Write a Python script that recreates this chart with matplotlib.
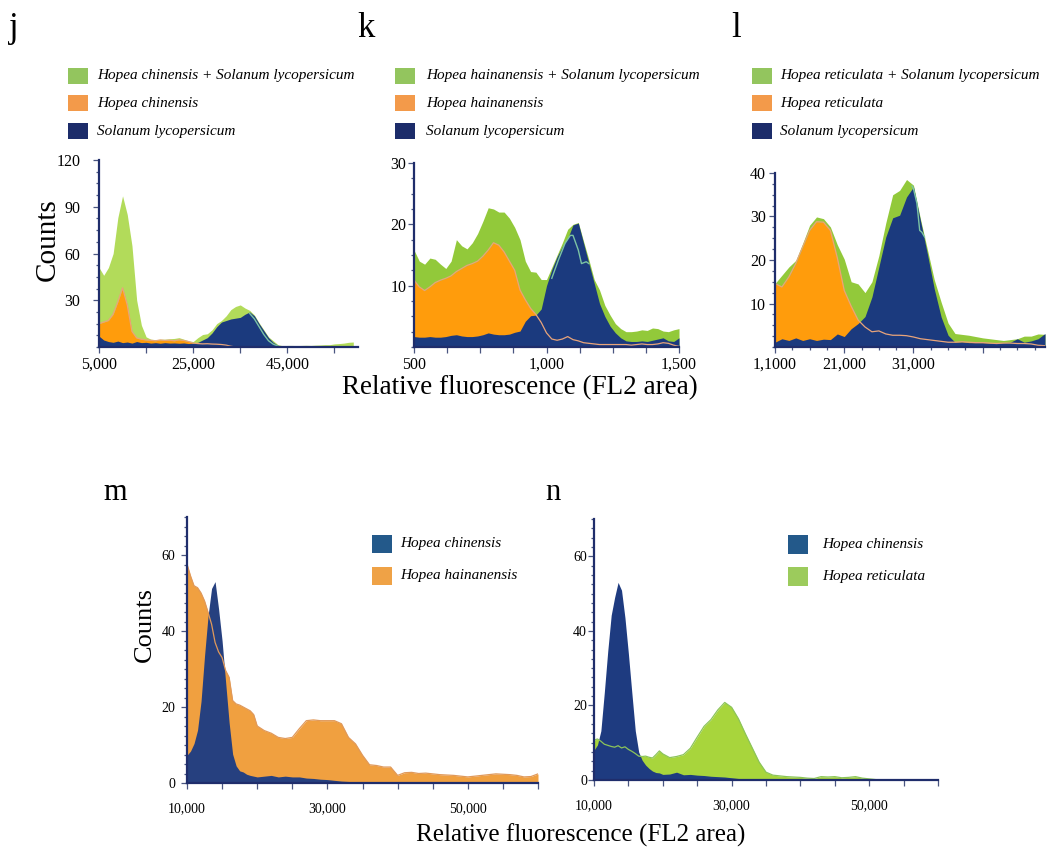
import numpy as np
import matplotlib
matplotlib.use("Agg")
import matplotlib.pyplot as plt
from matplotlib.patches import Rectangle
from matplotlib.ticker import FixedLocator, MultipleLocator

plt.rcParams['font.family'] = ['Liberation Serif', 'DejaVu Serif']

W, H = 1047, 850

# ---------------- data ----------------
# panel j : H. chinensis + S. lycopersicum
x_j = np.arange(5000, 60000, 1000)
green_j = [51, 46, 51, 60, 83, 97, 85, 65, 30, 14,
           6.5, 5, 4.7, 5, 5, 5.3, 5.5, 6, 5, 4,
           3.5, 6, 8, 8.5, 11, 15, 17, 20, 24, 26,
           27, 25, 23.5, 20.5, 15.5, 11, 6.5, 4, 1.5, 0.8,
           1, 1, 0.9, 1, 1.1, 1, 1.2, 1.3, 1.5, 1.5,
           2, 2.2, 2.5, 3, 3.2]
orange_j = [15, 16, 17, 21, 29, 38, 27, 10, 5.8, 5,
            4.5, 4.3, 4, 4.5, 4.2, 4.4, 4, 4.6, 4.2, 3.5,
            2.5, 2.2, 2, 2.1, 1.9, 1.8, 1.6, 1.2, 0.5, 0,
            0, 0, 0, 0, 0, 0, 0, 0, 0, 0,
            0, 0, 0, 0, 0, 0, 0, 0, 0, 0,
            0, 0, 0, 0, 0]
navy_j = [7, 4.5, 3.5, 3, 3.8, 2.8, 3.2, 2.5, 3.5, 2.8,
          3, 2.5, 2.8, 2.4, 2.8, 2.5, 2.6, 2.4, 2.6, 2.2,
          2.5, 3, 4.5, 6, 9, 13, 16, 17, 18, 18.5,
          19, 21, 22.5, 20, 15, 10.5, 6, 3, 1, 0.4,
          0.3, 0.3, 0.3, 0.3, 0.3, 0.3, 0.3, 0.3, 0.3, 0.3,
          0.3, 0.3, 0.3, 0.3, 0.3]
teal_x_j = [37000, 38000, 39000, 40000, 41000, 42000, 43000]
teal_j = [21.5, 18, 13, 8, 4, 1.8, 0.6]

# panel k : H. hainanensis + S. lycopersicum
x_k = np.arange(500, 1501, 20)
green_k = [15.8, 14, 13.5, 14.5, 14.3, 13.5, 12.8, 14, 17.5, 16.5,
           16, 17, 18.5, 20.5, 22.7, 22.5, 22, 22, 21, 19.5,
           17.5, 14, 12.3, 12.2, 11, 11, 13, 15, 17, 19.2,
           20, 20.3, 17.2, 14.2, 11, 9.3, 6.8, 5.2, 3.8, 3,
           2.5, 2.5, 2.6, 2.8, 2.7, 3.1, 3, 2.6, 2.5, 2.8,
           3]
orange_k = [10.9, 9.8, 9.2, 9.8, 10.5, 10.9, 11.2, 11.6, 12.3, 12.8,
            13.3, 13.6, 14, 14.8, 15.8, 17, 16.6, 15.5, 14, 12.5,
            9.3, 7.7, 6.3, 5.3, 4, 2.3, 1.3, 1.1, 1.3, 1.7,
            1.2, 1.0, 0.7, 0.6, 0.5, 0.4, 0.4, 0.4, 0.4, 0.4,
            0.4, 0.3, 0.4, 0.5, 0.4, 0.4, 0.5, 0.7, 0.6, 0.3,
            0.1]
navy_k = [1.7, 1.6, 1.6, 1.7, 1.6, 1.6, 1.7, 1.9, 2, 1.8,
          1.7, 1.7, 1.8, 2, 2.3, 2.1, 2, 2, 2.1, 2.4,
          2.6, 4.2, 5.1, 5.2, 6.2, 10, 12.6, 14.7, 16.4, 17.7,
          19.9, 20.2, 16.9, 13.6, 10.4, 7.1, 5, 3.4, 2.3, 1.5,
          1, 0.9, 0.9, 1, 0.9, 1.1, 1.3, 1.5, 1.0, 0.9,
          1.5]
teal_x_k = [1020, 1045, 1070, 1090, 1100, 1120, 1132, 1150, 1160]
teal_k = [11.2, 14.2, 16.9, 18.2, 18.2, 15.8, 13.6, 13.9, 13.6]

# panel l : H. reticulata + S. lycopersicum
x_l = np.arange(11000, 50001, 1000)
green_l = [14.6, 16.5, 18.4, 19.9, 23.8, 28, 29.9, 29.5, 27.6, 23.5,
           20.2, 15, 14.5, 12.5, 15, 21, 28.5, 35, 36, 38.5,
           37.2, 29.5, 22.5, 15.5, 10.3, 5.5, 3.1, 2.9, 2.7, 2.4,
           2.1, 1.9, 1.7, 1.5, 1.7, 1.9, 2.5, 2.5, 3, 2.9]
orange_l = [14.6, 13.8, 16.1, 19.2, 23, 26.8, 28.8, 28.7, 26.8, 20.5,
            13, 9.4, 6.2, 4.6, 3.5, 3.7, 3, 2.7, 2.7, 2.6,
            2.3, 1.9, 1.7, 1.5, 1.3, 1.1, 1.1, 1.2, 1.1, 1.0,
            1.0, 0.9, 0.8, 0.9, 0.9, 0.8, 0.8, 0.7, 0.4, 0.3]
navy_l = [1.1, 1.9, 1.5, 2.1, 1.5, 1.9, 1.5, 1.8, 1.7, 3,
          2.4, 4.2, 5.4, 7, 11.5, 18.4, 25.3, 29.7, 30.3, 34.5,
          36.8, 29.1, 21.5, 13.4, 6.9, 2.7, 1.1, 1.2, 1.0, 1.0,
          1.0, 0.9, 0.9, 1.0, 1.1, 1.9, 1.1, 1.4, 1.9, 3.1]
teal_x_l = [30800, 31000, 31500, 31900, 32200, 32600]
teal_l = [37, 36.4, 33, 26.8, 26.4, 25.3]

# panels m and n share one bin grid
x_mn = np.concatenate([np.arange(10000, 20001, 500), np.arange(21000, 60001, 1000)])
orange_m = [57.6, 54.5, 51.9, 51.4, 50, 47.9, 44.9, 41.8, 37, 34.5,
            33, 29.6, 27.8, 21.7, 20.8, 20.5, 20, 19.5, 19, 18,
            15,
            13.8, 13.1, 12, 11.7, 12, 14.3, 16.4, 16.6, 16.4, 16.4,
            16.4, 15.6, 12, 10.3, 7.3, 4.8, 4.6, 4.2, 4.2, 2,
            2.7, 2.8, 2.5, 2.6, 2.4, 2.2, 2.1, 2.0, 1.8, 1.6,
            1.8, 2.0, 2.2, 2.4, 2.3, 2.2, 2.0, 1.6, 1.7, 2.4]
navy_m = [7.3, 8.4, 10.4, 13.9, 21.5, 33.5, 44, 51.2, 53, 45.8,
          37.4, 26.6, 15.9, 7.6, 4.5, 3.2, 2.9, 2.3, 2.0, 1.8,
          1.6,
          1.8, 2, 1.6, 1.8, 1.6, 1.6, 1.3, 1.2, 1.0, 0.9,
          0.7, 0.5, 0.4, 0.3, 0.2, 0.2, 0.1, 0.1, 0.1, 0.1,
          0.1, 0.1, 0.1, 0.1, 0.1, 0.1, 0.1, 0.1, 0.1, 0.1,
          0.1, 0.1, 0.1, 0.1, 0.1, 0.1, 0.1, 0.1, 0.1, 0.1]
navy_n = [8, 9.4, 13.2, 23.5, 34.6, 44.2, 49, 53, 50.9, 43.5,
          33.9, 23.4, 13.2, 7.5, 5.3, 4, 3.1, 2.4, 2.0, 1.9,
          1.5,
          1.6, 2.1, 1.4, 1.5, 1.3, 1.2, 1.0, 0.9, 0.8, 0.6,
          0.4, 0.35, 0.3, 0.2, 0.2, 0.2, 0.2, 0.2, 0.2, 0.2,
          0.2, 0.2, 0.2, 0.2, 0.2, 0.2, 0.2, 0.2, 0.2, 0.2,
          0.2, 0.2, 0.2, 0.2, 0.2, 0.2, 0.2, 0.2, 0.2, 0.2]
green_n = [10.7, 11, 10.4, 9.6, 9.3, 9.0, 8.8, 9.2, 8.6, 8.9,
           8.2, 7.7, 7.1, 6.4, 6.3, 6.4, 6.1, 5.9, 6.8, 7.8,
           7,
           6, 6.3, 6.8, 8.5, 11.5, 14.4, 16.2, 18.8, 20.8, 19.5,
           16.4, 12.4, 8.6, 4.8, 2.1, 1.3, 1.1, 0.9, 0.8, 0.7,
           0.5, 0.4, 0.9, 0.8, 0.9, 0.6, 0.7, 0.9, 0.5, 0.3,
           0.1, 0.1, 0.1, 0.1, 0.1, 0.1, 0.1, 0.1, 0.1, 0.1]

ticks_mn = [10000, 15000, 20000, 25000, 30000, 35000, 40000, 45000, 50000, 55000, 60000]
labels_mn = ['10,000', '', '', '', '30,000', '', '', '', '50,000', '', '']

# ---------------- colours ----------------
NAVY = '#1b3a7e'
ORANGE = '#ff9c0c'
LIME_J = '#b2db5a'
LIME = '#92c93a'
SPINE = '#1f2d6b'
TICK = '#4a5680'
KEY_GREEN, KEY_ORANGE, KEY_NAVY = '#93c55e', '#f39a4a', '#1c2c6a'


def box(left, top, right, bottom):
    # pixel box -> figure fraction [l, b, w, h]
    return [left / W, 1 - bottom / H, (right - left) / W, (bottom - top) / H]


def style(ax, labelsize, ypad, xpad=2.5):
    for s in ('top', 'right'):
        ax.spines[s].set_visible(False)
    for s in ('left', 'bottom'):
        ax.spines[s].set_color(SPINE)
        ax.spines[s].set_linewidth(1.6)
        ax.spines[s].set_zorder(5)
    ax.tick_params(which='both', direction='out', color=TICK, width=0.9)
    ax.tick_params(which='major', length=4.5, labelsize=labelsize)
    ax.tick_params(which='minor', length=2.5)
    ax.tick_params(axis='y', pad=ypad)
    ax.tick_params(axis='x', pad=xpad)
    ax.set_facecolor('none')


def key(fig, x, y, w, h, color, label, size, gap):
    fig.add_artist(Rectangle((x / W, 1 - (y + h) / H), w / W, h / H,
                             transform=fig.transFigure, color=color, lw=0))
    fig.text((x + w + gap) / W, 1 - (y + h / 2) / H, label, style='italic',
             va='center', ha='left', fontsize=size)


fig = plt.figure(figsize=(W / 100, H / 100), dpi=100)

# ---- j ----
ax = fig.add_axes(box(99, 160, 358, 347))
ax.fill_between(x_j, green_j, color=LIME_J, lw=0, zorder=1)
ax.fill_between(x_j, orange_j, color=ORANGE, lw=0, zorder=2)
ax.fill_between(x_j, navy_j, color=NAVY, lw=0, zorder=3)
ax.plot(x_j, orange_j, color='#e9a47a', lw=0.9, zorder=4)
ax.plot(teal_x_j, teal_j, color='#7cc4a4', lw=1.0, zorder=4)
ax.set_xlim(5000, 60000)
ax.set_ylim(0, 120)
ax.xaxis.set_major_locator(FixedLocator([5000, 15000, 25000, 35000, 45000, 55000]))
ax.set_xticklabels(['5,000', '', '25,000', '', '45,000', ''])
ax.yaxis.set_major_locator(FixedLocator([30, 60, 90, 120]))
ax.yaxis.set_minor_locator(MultipleLocator(7.5))
style(ax, 11.5, 9)

# ---- k ----
ax = fig.add_axes(box(414, 163, 679, 347))
ax.fill_between(x_k, green_k, color=LIME, lw=0, zorder=1)
ax.fill_between(x_k, orange_k, color=ORANGE, lw=0, zorder=2)
ax.fill_between(x_k, navy_k, color=NAVY, lw=0, zorder=3)
ax.plot(x_k, orange_k, color='#e9a47a', lw=0.9, zorder=4)
ax.plot(teal_x_k, teal_k, color='#7cc4a4', lw=1.0, zorder=4)
ax.set_xlim(500, 1500)
ax.set_ylim(0, 30)
ticks_k = [500, 625, 750, 875, 1000, 1125, 1250, 1375, 1500]
ax.xaxis.set_major_locator(FixedLocator(ticks_k))
ax.set_xticklabels(['500', '', '', '', '1,000', '', '', '', '1,500'])
ax.yaxis.set_major_locator(FixedLocator([10, 20, 30]))
ax.yaxis.set_minor_locator(MultipleLocator(2.5))
style(ax, 11.5, 1)

# ---- l ----
ax = fig.add_axes(box(775, 173, 1045, 347))
ax.fill_between(x_l, green_l, color=LIME, lw=0, zorder=1)
ax.fill_between(x_l, orange_l, color=ORANGE, lw=0, zorder=2)
ax.fill_between(x_l, navy_l, color=NAVY, lw=0, zorder=3)
ax.plot(x_l, orange_l, color='#e9a47a', lw=0.9, zorder=4)
ax.plot(teal_x_l, teal_l, color='#7cc4a4', lw=1.0, zorder=4)
ax.set_xlim(11000, 50000)
ax.set_ylim(0, 40)
ax.xaxis.set_major_locator(FixedLocator([11000, 21000, 31000, 41000]))
ax.xaxis.set_minor_locator(MultipleLocator(2500, offset=1000))
ax.set_xticklabels(['1,1000', '21,000', '31,000', ''])
ax.yaxis.set_major_locator(FixedLocator([10, 20, 30, 40]))
ax.yaxis.set_minor_locator(MultipleLocator(2.5))
style(ax, 11.5, 2)

# ---- m ----
ax = fig.add_axes(box(187, 517, 538, 783))
ax.fill_between(x_mn, orange_m, color='#f0a040', lw=0, zorder=1)
ax.fill_between(x_mn, navy_m, color='#26407f', lw=0, zorder=2)
ax.plot(x_mn, orange_m, color='#e0995a', lw=0.9, zorder=3)
ax.set_xlim(10000, 60000)
ax.set_ylim(0, 70)
ax.xaxis.set_major_locator(FixedLocator(ticks_mn))
ax.set_xticklabels(labels_mn)
ax.yaxis.set_major_locator(FixedLocator([0, 20, 40, 60]))
ax.yaxis.set_minor_locator(MultipleLocator(2.5))
style(ax, 10, 4, 9)

# ---- n ----
ax = fig.add_axes(box(594, 519, 938, 780))
ax.fill_between(x_mn, green_n, color='#a8d53c', lw=0, zorder=1)
ax.fill_between(x_mn, navy_n, color='#1e3b80', lw=0, zorder=2)
ax.plot(x_mn, green_n, color='#8cc45a', lw=0.9, zorder=3)
ax.set_xlim(10000, 60000)
ax.set_ylim(0, 70)
ax.xaxis.set_major_locator(FixedLocator(ticks_mn))
ax.set_xticklabels(labels_mn)
ax.yaxis.set_major_locator(FixedLocator([0, 20, 40, 60]))
ax.yaxis.set_minor_locator(MultipleLocator(2.5))
style(ax, 10, 0.5, 9)

# ---- keys ----
rows = [68, 95, 123]
for sx, tx, names in [(68, 97, ('Hopea chinensis + Solanum lycopersicum', 'Hopea chinensis')),
                      (395, 426, ('Hopea hainanensis + Solanum lycopersicum', 'Hopea hainanensis')),
                      (752, 780, ('Hopea reticulata + Solanum lycopersicum', 'Hopea reticulata'))]:
    labels = [names[0], names[1], 'Solanum lycopersicum']
    for r, c, lab in zip(rows, (KEY_GREEN, KEY_ORANGE, KEY_NAVY), labels):
        key(fig, sx, r, 20, 16, c, lab, 11, tx - sx - 20)

key(fig, 372, 535, 20, 18, '#23598a', 'Hopea chinensis', 11, 8)
key(fig, 372, 567, 20, 18, '#efa246', 'Hopea hainanensis', 11, 8)
key(fig, 788, 535, 20, 19, '#23598a', 'Hopea chinensis', 11, 14)
key(fig, 788, 567, 20, 19, '#9ccb5c', 'Hopea reticulata', 11, 14)

# ---- axis titles and panel letters ----
fig.text(520 / W, 1 - 388 / H, 'Relative fluorescence (FL2 area)',
         ha='center', va='center', fontsize=19.5)
fig.text(581 / W, 1 - 835 / H, 'Relative fluorescence (FL2 area)',
         ha='center', va='center', fontsize=18)
fig.text(48 / W, 1 - 240 / H, 'Counts', rotation=90, ha='center', va='center', fontsize=21)
fig.text(145 / W, 1 - 625 / H, 'Counts', rotation=90, ha='center', va='center', fontsize=19)

for letter, lx, ly, fs in [('j', 9, 37, 25), ('k', 357, 37, 25), ('l', 731, 37, 25),
                           ('m', 103, 500, 22), ('n', 545, 500, 22)]:
    fig.text(lx / W, 1 - ly / H, letter, ha='left', va='baseline', fontsize=fs)

fig.savefig('out.png', dpi=100)
